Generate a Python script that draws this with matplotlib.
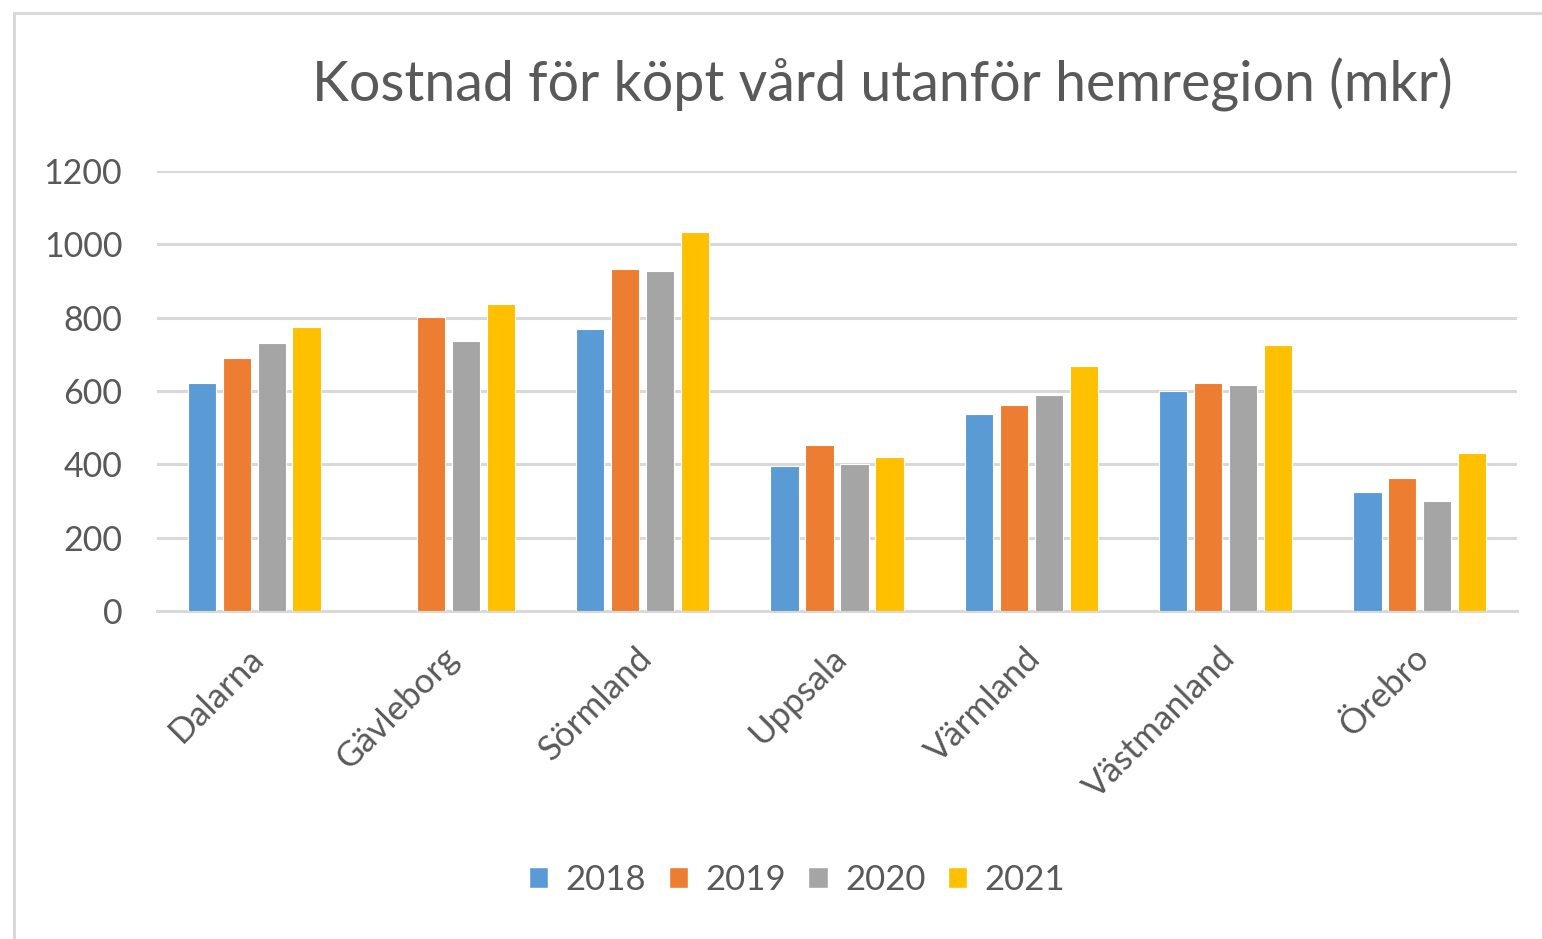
import matplotlib
matplotlib.use('Agg')
import matplotlib.pyplot as plt
from matplotlib.lines import Line2D
from matplotlib.patches import Patch
import matplotlib.transforms as mtransforms
import numpy as np

regions = ['Dalarna', 'Gävleborg', 'Sörmland', 'Uppsala', 'Värmland', 'Västmanland', 'Örebro']
years = ['2018', '2019', '2020', '2021']

v2018 = [623, 'nan', 769, 396, 537, 600, 324]
v2019 = [691, 803, 933, 453, 561, 623, 363]
v2020 = [730, 735, 927, 402, 588, 617, 301]
v2021 = [775, 836, 1034, 419, 667, 725, 430]

colors = ['#5B9BD5', '#ED7D31', '#A5A5A5', '#FFC000']
text_col = '#595959'

plt.rcParams['font.family'] = ['Lato', 'DejaVu Sans']

fig = plt.figure(figsize=(15.42, 9.39), dpi=100)
ax = fig.add_axes([0.1018, 0.3493, 0.882, 0.4686])

x = np.arange(len(regions))
series = [v2018, v2019, v2020, v2021]
for i, (vals, c, yr) in enumerate(zip(series, colors, years)):
    h = np.array(vals, dtype=float)
    ax.bar(x + (i - 1.5) * 0.18, h, width=0.145, color=c, edgecolor='white',
           linewidth=0.8, label=yr, zorder=3)

ax.set_xlim(-0.5, len(regions) - 0.5)
ax.set_ylim(0, 1200)
ax.set_yticks(range(0, 1201, 200))
ax.yaxis.grid(True, color='#d9d9d9', linewidth=2.2, zorder=0)
ax.set_axisbelow(True)
for s in ['top', 'right', 'left']:
    ax.spines[s].set_visible(False)
ax.spines['bottom'].set_color('#d9d9d9')
ax.spines['bottom'].set_linewidth(2.2)
ax.tick_params(axis='both', length=0, labelsize=25, colors=text_col)
ax.tick_params(axis='x', pad=22)
ax.tick_params(axis='y', labelsize=24.5, pad=25)
ax.set_xticks(x)
ax.set_xticklabels(regions, rotation=45, ha='right', rotation_mode='anchor')
shift = mtransforms.ScaledTranslation(-7 / 100, 0, fig.dpi_scale_trans)
for lbl in ax.get_xticklabels():
    lbl.set_transform(lbl.get_transform() + shift)

fig.text(0.572, 0.892, 'Kostnad för köpt vård utanför hemregion (mkr)',
         ha='center', va='baseline', fontsize=40, color=text_col)

handles = [Patch(facecolor=c, edgecolor='white', label=yr) for c, yr in zip(colors, years)]
fig.legend(handles=handles, loc='center', bbox_to_anchor=(0.517, 0.063), ncol=4,
           frameon=False, fontsize=25, handlelength=0.55, handleheight=0.55,
           handletextpad=0.5, columnspacing=0.65, labelcolor=text_col)

# outer chart border (left and top only visible)
fig.add_artist(Line2D([13.5 / 1542, 13.5 / 1542], [0, 1 - 12.5 / 939],
                      transform=fig.transFigure, color='#d9d9d9', linewidth=2.2))
fig.add_artist(Line2D([13.5 / 1542, 1], [1 - 12.5 / 939, 1 - 12.5 / 939],
                      transform=fig.transFigure, color='#d9d9d9', linewidth=2.2))

fig.savefig('out.png', dpi=100)
